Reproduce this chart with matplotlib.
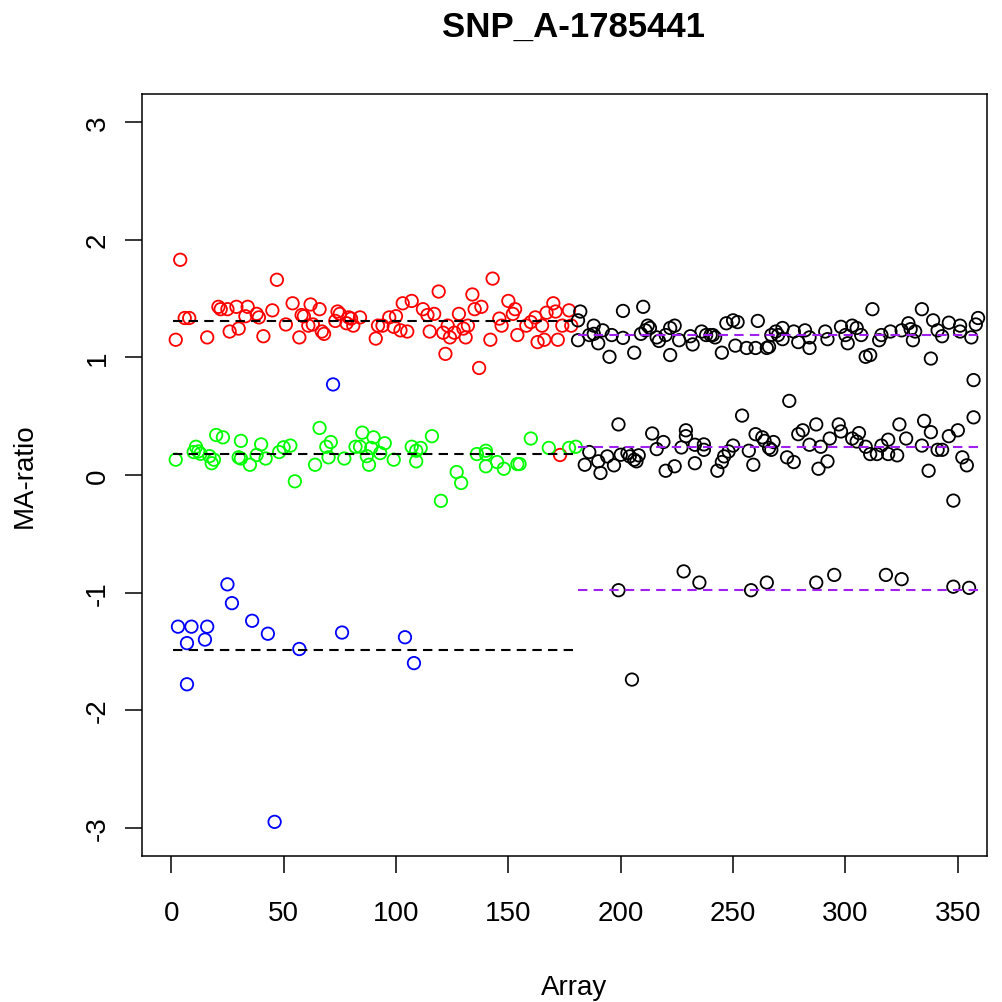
import numpy as np
import matplotlib
matplotlib.use("Agg")
import matplotlib.pyplot as plt

plt.rcParams['font.family'] = ['Liberation Sans', 'DejaVu Sans']
plt.rcParams['axes.unicode_minus'] = False

# arrays 1-180: calls coloured by genotype
red_x = [4, 47, 2, 16, 6, 8, 21, 22, 25, 29, 26, 30, 34, 33, 38, 39, 41, 45, 51, 54,
         58, 59, 57, 62, 66, 61, 63, 67, 68, 73, 74, 75, 78, 79, 80, 81, 84, 91, 92,
         94, 97, 100, 99, 102, 103, 107, 105, 112, 114, 117, 119, 115, 123, 121, 124,
         122, 128, 126, 130, 131, 132, 134, 135, 138, 142, 137, 143, 146, 147, 150,
         152, 153, 154, 158, 160, 162, 163, 166, 167, 170, 171, 172, 174, 177, 178,
         165, 173]
red_y = [1.83, 1.66, 1.15, 1.17, 1.335, 1.335, 1.43, 1.41, 1.41, 1.43, 1.22, 1.245,
         1.43, 1.35, 1.37, 1.34, 1.18, 1.40, 1.28, 1.46, 1.36, 1.35, 1.17, 1.45, 1.41,
         1.27, 1.28, 1.22, 1.20, 1.31, 1.39, 1.37, 1.29, 1.34, 1.33, 1.27, 1.34, 1.16,
         1.27, 1.27, 1.34, 1.35, 1.26, 1.23, 1.46, 1.48, 1.22, 1.41, 1.36, 1.37, 1.56,
         1.22, 1.27, 1.21, 1.17, 1.03, 1.37, 1.21, 1.245, 1.17, 1.27, 1.535, 1.41,
         1.43, 1.15, 0.91, 1.67, 1.33, 1.27, 1.48, 1.37, 1.41, 1.19, 1.27, 1.30, 1.34,
         1.13, 1.15, 1.38, 1.46, 1.39, 1.15, 1.27, 1.40, 1.27, 1.27, 0.17]

green_x = [2, 11, 10, 12, 13, 17, 19, 18, 20, 23, 31, 30, 31, 35, 38, 40, 42, 48, 50,
           53, 55, 64, 66, 69, 71, 70, 77, 82, 84, 85, 90, 89, 87, 88, 95, 93, 99,
           107, 111, 109, 109, 116, 127, 129, 120, 136, 140, 140, 140, 145, 148, 154,
           155, 160, 168, 177, 180]
green_y = [0.13, 0.24, 0.195, 0.20, 0.18, 0.16, 0.13, 0.10, 0.34, 0.32, 0.29, 0.15,
           0.14, 0.087, 0.17, 0.26, 0.14, 0.195, 0.235, 0.25, -0.054, 0.087, 0.40,
           0.24, 0.28, 0.15, 0.14, 0.24, 0.24, 0.36, 0.32, 0.23, 0.16, 0.087, 0.27,
           0.186, 0.13, 0.24, 0.23, 0.206, 0.116, 0.33, 0.025, -0.068, -0.22, 0.178,
           0.206, 0.178, 0.074, 0.11, 0.053, 0.093, 0.093, 0.31, 0.23, 0.23, 0.24]

blue_x = [3, 9, 16, 7, 15, 7, 25, 27, 36, 43, 57, 76, 104, 108, 46, 72]
blue_y = [-1.29, -1.29, -1.29, -1.43, -1.40, -1.78, -0.93, -1.09, -1.24, -1.35, -1.48,
          -1.34, -1.38, -1.60, -2.95, 0.77]

# arrays 181-360
black_x = [182, 181, 181, 188, 188, 186, 190, 192, 196, 195, 201, 201, 206, 210, 209,
           211, 212, 213, 216, 217, 220, 222, 222, 224, 226, 231, 232, 236, 238, 240,
           241, 242, 245, 247, 250, 252, 251, 256, 260, 261, 265, 269, 267, 266, 270,
           272, 272, 277, 279, 282, 284, 284, 291, 292, 298, 300, 301, 303, 305, 307,
           309, 311, 312, 315, 316, 320, 325, 328, 329, 331, 330, 334, 339, 338, 341,
           343, 346, 351, 351, 356, 358, 359, 357,
           186, 184, 190, 191, 194, 197, 199, 200, 203, 204, 206, 208, 207, 214, 219,
           216, 220, 224, 227, 229, 229, 233, 233, 237, 237, 243, 245, 246, 248, 250,
           254, 257, 259, 260, 263, 264, 266, 268, 267, 275, 274, 277, 279, 281, 284,
           287, 288, 289, 292, 293, 297, 298, 303, 306, 305, 309, 311, 314, 316, 319,
           319, 323, 324, 327, 334, 335, 338, 337, 341, 343, 346, 350, 352, 354, 348,
           357,
           199, 228, 235, 258, 265, 287, 295, 318, 325, 348, 355, 205]
black_y = [1.39, 1.315, 1.146, 1.27, 1.20, 1.19, 1.12, 1.23, 1.19, 1.005, 1.395, 1.166,
           1.04, 1.43, 1.20, 1.23, 1.27, 1.25, 1.17, 1.14, 1.19, 1.02, 1.25, 1.27,
           1.146, 1.18, 1.11, 1.22, 1.19, 1.19, 1.19, 1.17, 1.04, 1.29, 1.315, 1.30,
           1.10, 1.08, 1.08, 1.31, 1.08, 1.22, 1.19, 1.09, 1.19, 1.25, 1.155, 1.22,
           1.13, 1.23, 1.17, 1.08, 1.22, 1.155, 1.26, 1.19, 1.12, 1.27, 1.25, 1.19,
           1.005, 1.02, 1.41, 1.146, 1.19, 1.22, 1.23, 1.29, 1.24, 1.22, 1.146, 1.41,
           1.315, 0.99, 1.23, 1.18, 1.295, 1.27, 1.22, 1.17, 1.28, 1.335, 0.807,
           0.195, 0.087, 0.116, 0.017, 0.158, 0.082, 0.43, 0.172, 0.186, 0.158, 0.13,
           0.167, 0.116, 0.353, 0.28, 0.22, 0.036, 0.074, 0.234, 0.33, 0.38, 0.10,
           0.257, 0.26, 0.214, 0.036, 0.11, 0.158, 0.20, 0.25, 0.505, 0.206, 0.087,
           0.347, 0.32, 0.29, 0.23, 0.28, 0.214, 0.63, 0.15, 0.11, 0.347, 0.38, 0.257,
           0.43, 0.053, 0.24, 0.116, 0.31, 0.43, 0.37, 0.31, 0.356, 0.285, 0.24, 0.178,
           0.178, 0.25, 0.30, 0.178, 0.167, 0.43, 0.31, 0.25, 0.46, 0.364, 0.036,
           0.214, 0.214, 0.33, 0.38, 0.15, 0.082, -0.218, 0.49,
           -0.98, -0.82, -0.915, -0.98, -0.915, -0.915, -0.85, -0.85, -0.886, -0.95,
           -0.96, -1.74]

# cluster centres and the array spans they cover
centers_first = [1.31, 0.178, -1.49]
centers_second = [1.19, 0.24, -0.977]
span_first = [1, 180]
span_second = [181, 360]

fig = plt.figure(figsize=(10.03, 10.03), dpi=100)
ax = fig.add_axes([0.1416, 0.1456, 0.8425, 0.7597])

mk = dict(marker='o', facecolors='none', s=80, linewidths=1.3)
ax.scatter(red_x, red_y, edgecolors='#FF0000', **mk)
ax.scatter(green_x, green_y, edgecolors='#00FF00', **mk)
ax.scatter(blue_x, blue_y, edgecolors='#0000FF', **mk)
ax.scatter(black_x, black_y, edgecolors='black', **mk)

for c in centers_first:
    ax.plot(span_first, [c, c], color='black', lw=1.5, dashes=(4.5, 3))
for c in centers_second:
    ax.plot(span_second, [c, c], color='#A020F0', lw=1.5, dashes=(4.5, 3))

ax.set_xlim(-13, 363)
ax.set_ylim(-3.24, 3.24)
ax.set_xticks(np.arange(0, 351, 50))
ax.set_yticks(np.arange(-3, 4, 1))
ax.tick_params(direction='out', length=12.5, width=1.1, labelsize=20)
ax.tick_params(axis='x', pad=19)
ax.tick_params(axis='y', pad=10)
for lab in ax.get_yticklabels():
    lab.set_rotation(90)
    lab.set_va('center')
for sp in ax.spines.values():
    sp.set_linewidth(1.1)

ax.set_title('SNP_A-1785441', fontsize=25, fontweight='bold', pad=42, x=0.511)
ax.set_xlabel('Array', fontsize=20, labelpad=31)
ax.xaxis.set_label_coords(0.511, -0.155)
ax.set_ylabel('MA-ratio', fontsize=20, labelpad=34)

fig.savefig('out.png', dpi=100)
